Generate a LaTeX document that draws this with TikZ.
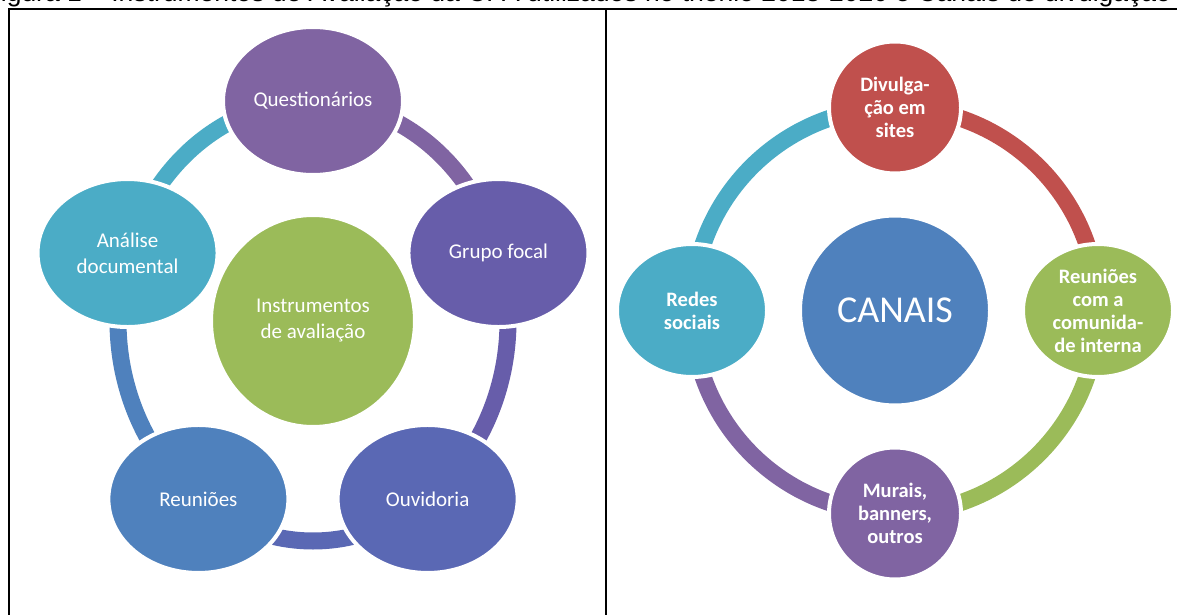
\documentclass[tikz,border=0pt]{standalone}
\usepackage{fontspec}
\setmainfont{Carlito}
\newfontfamily\captionfont{Liberation Sans}
\usetikzlibrary{
  backgrounds,
  shapes.geometric
}

\definecolor{quest}{HTML}{8064A2}
\definecolor{grupo}{HTML}{675DAA}
\definecolor{ouvid}{HTML}{5A68B4}
\definecolor{reun}{HTML}{4F81BD}
\definecolor{anal}{HTML}{4BACC6}
\definecolor{accgreen}{HTML}{9BBB59}
\definecolor{accred}{HTML}{C0504D}

\tikzset{
  bubble/.style={ellipse, fill=#1, draw=white, line width=4pt, text=white,
    align=center, inner sep=0pt},
  smalltext/.style={font=\fontsize{21}{26}\selectfont},
  boldtext/.style={font=\fontsize{20.5}{23}\selectfont\bfseries},
  ring/.style={draw=#1, line width=17pt}
}

\begin{document}
\begin{tikzpicture}[x=1pt,y=1pt]
  \useasboundingbox (0, 0) rectangle (1177, 614);

  % caption, cut by the top of the page
  \path (-15.5, 612.5) node[anchor=base west,inner sep=0pt] (caption)
    {\captionfont\fontsize{26.5}{30}\selectfont Figura 1 – Instrumentos de Avaliação da CPA utilizados no triênio 2018-2020 e Canais de divulgação};

  % frame
  \draw[line width=2] (8.5, -2) -- (8.5, 605) -- (1180, 605);
  \draw[line width=2] (606, -2) -- (606, 605);

  % left: instrumentos
  \coordinate (ringL) at (313, 293);
  \path (ringL) node[bubble=accgreen, smalltext, minimum width=204pt, minimum height=212pt] (instr) {Instrumentos\\de avaliação};
  \path (ringL) ++(90:195 and 220) node[bubble=quest, smalltext, minimum width=180pt, minimum height=148pt] (questi) {Questionários};
  \path (ringL) ++(18:195 and 220) node[bubble=grupo, smalltext, minimum width=180pt, minimum height=148pt] (grupof) {Grupo focal};
  \path (ringL) ++(-54:195 and 220) node[bubble=ouvid, smalltext, minimum width=180pt, minimum height=148pt] (ouvido) {Ouvidoria};
  \path (ringL) ++(234:195 and 220) node[bubble=reun, smalltext, minimum width=180pt, minimum height=148pt] (reunio) {Reuniões};
  \path (ringL) ++(162:195 and 220) node[bubble=anal, smalltext, minimum width=180pt, minimum height=148pt] (analis) {Análise\\documental};

  \begin{scope}[on background layer]
    \draw[ring=quest] (questi.center) arc[start angle=90, end angle=18, x radius=195pt, y radius=220pt];
    \draw[ring=grupo] (grupof.center) arc[start angle=18, end angle=-54, x radius=195pt, y radius=220pt];
    \draw[ring=ouvid] (ouvido.center) arc[start angle=-54, end angle=-126, x radius=195pt, y radius=220pt];
    \draw[ring=reun] (reunio.center) arc[start angle=234, end angle=162, x radius=195pt, y radius=220pt];
    \draw[ring=anal] (analis.center) arc[start angle=162, end angle=90, x radius=195pt, y radius=220pt];
  \end{scope}

  % right: canais
  \coordinate (ringR) at (895, 303.5);
  \path (ringR) node[bubble=reun, minimum size=190pt, font=\fontsize{38}{40}\selectfont] (canais) {CANAIS};
  \path (ringR) ++(90:203) node[bubble=accred, boldtext, minimum size=132pt] (divulg) {Divulga-\\ção em\\sites};
  \path (ringR) ++(0:203) node[bubble=accgreen, boldtext, minimum width=150pt, minimum height=133pt] (reunco) {Reuniões\\com a\\comunida-\\de interna};
  \path (ringR) ++(-90:203) node[bubble=quest, boldtext, minimum size=132pt] (murais) {Murais,\\banners,\\outros};
  \path (ringR) ++(180:203) node[bubble=anal, boldtext, minimum width=150pt, minimum height=133pt] (redes) {Redes\\sociais};

  \begin{scope}[on background layer]
    \draw[ring=accred] (divulg.center) arc[start angle=90, end angle=0, radius=203pt];
    \draw[ring=accgreen] (reunco.center) arc[start angle=0, end angle=-90, radius=203pt];
    \draw[ring=quest] (murais.center) arc[start angle=-90, end angle=-180, radius=203pt];
    \draw[ring=anal] (redes.center) arc[start angle=180, end angle=90, radius=203pt];
  \end{scope}
\end{tikzpicture}
\end{document}
